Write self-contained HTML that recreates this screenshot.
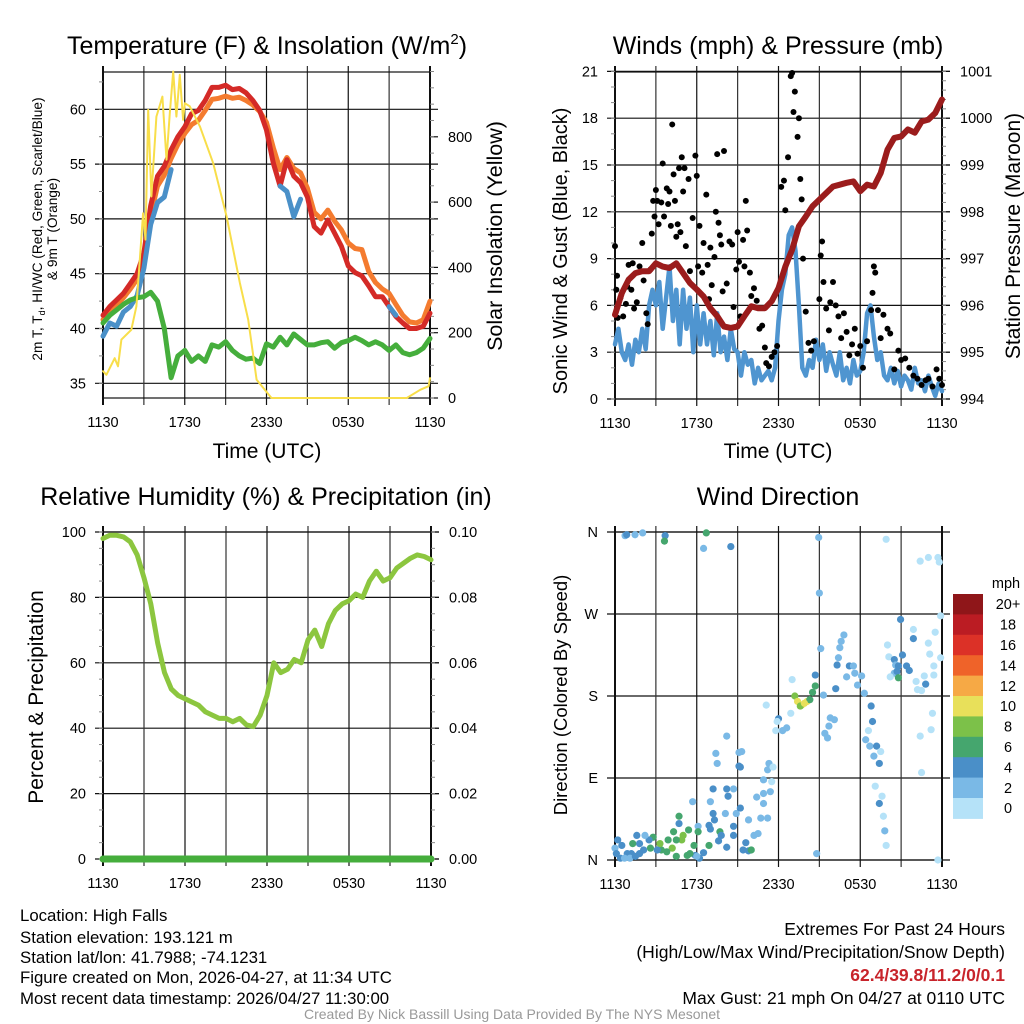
<!DOCTYPE html>
<html><head><meta charset="utf-8"><style>
html,body{margin:0;padding:0;background:#fff;}
svg{display:block;font-family:"Liberation Sans",Arial,sans-serif;}
</style></head><body>
<svg id="fig" width="1024" height="1024" viewBox="0 0 1024 1024" xmlns="http://www.w3.org/2000/svg">
<rect width="1024" height="1024" fill="#fff"/>
<g id="p1"></g>
<g id="p2"></g>
<g id="p3"></g>
<g id="p4"></g>
<text x="267" y="54" font-size="25" text-anchor="middle">Temperature (F) &amp; Insolation (W/m<tspan font-size="15" dy="-10">2</tspan><tspan dy="10">)</tspan></text>
<text x="778" y="54" font-size="25" text-anchor="middle">Winds (mph) &amp; Pressure (mb)</text>
<text x="266" y="505" font-size="25" text-anchor="middle">Relative Humidity (%) &amp; Precipitation (in)</text>
<text x="778" y="505" font-size="25" text-anchor="middle">Wind Direction</text>
<text x="267" y="458" font-size="21" text-anchor="middle">Time (UTC)</text>
<text x="778" y="458" font-size="21" text-anchor="middle">Time (UTC)</text>
<text transform="translate(42,229) rotate(-90)" font-size="13.7" text-anchor="middle">2m T, T<tspan font-size="9" dy="3">d</tspan><tspan dy="-3">, HI/WC (Red, Green, Scarlet/Blue)</tspan></text>
<text transform="translate(57,229) rotate(-90)" font-size="13.7" text-anchor="middle">&amp; 9m T (Orange)</text>
<text transform="translate(502,236) rotate(-90)" font-size="21.5" text-anchor="middle">Solar Insolation (Yellow)</text>
<text transform="translate(567,251) rotate(-90)" font-size="20" text-anchor="middle">Sonic Wind &amp; Gust (Blue, Black)</text>
<text transform="translate(1020,236) rotate(-90)" font-size="21" text-anchor="middle">Station Pressure (Maroon)</text>
<text transform="translate(43,697) rotate(-90)" font-size="21" text-anchor="middle">Percent &amp; Precipitation</text>
<text transform="translate(567,695) rotate(-90)" font-size="18.5" text-anchor="middle">Direction (Colored By Speed)</text>
<g font-size="16.8">
<text x="20" y="921">Location: High Falls</text>
<text x="20" y="943">Station elevation: 193.121 m</text>
<text x="20" y="963">Station lat/lon: 41.7988; -74.1231</text>
<text x="20" y="983">Figure created on Mon, 2026-04-27, at 11:34 UTC</text>
<text x="20" y="1004">Most recent data timestamp: 2026/04/27 11:30:00</text>
</g>
<g font-size="17.5" text-anchor="end">
<text x="1005" y="935">Extremes For Past 24 Hours</text>
<text x="1005" y="958">(High/Low/Max Wind/Precipitation/Snow Depth)</text>
<text x="1005" y="981" fill="#c8242b" font-weight="bold">62.4/39.8/11.2/0/0.1</text>
<text x="1005" y="1004">Max Gust: 21 mph On 04/27 at 0110 UTC</text>
</g>
<text x="512" y="1019" font-size="14" fill="#999" text-anchor="middle">Created By Nick Bassill Using Data Provided By The NYS Mesonet</text>
</svg>
<script>
// ---- data ----
const halfHours = [0,0.5,1,1.5,2,2.5,3,3.5,4,4.5,5,5.5,6,6.5,7,7.5,8,8.5,9,9.5,10,10.5,11,11.5,12,12.5,13,13.5,14,14.5,15,15.5,16,16.5,17,17.5,18,18.5,19,19.5,20,20.5,21,21.5,22,22.5,23,23.5,24];
const xTickLabels = ["1130","1730","2330","0530","1130"];
const tempRed = [41.2,42,42.6,43.2,44.1,45,46.9,51.2,53.9,54.8,56.3,57.5,58.4,59.6,59.9,60.8,62,62,62.2,61.8,61.9,61.5,60.8,59.9,58.1,55.1,53,55.4,53.9,53.3,52,49.3,48.7,49.9,48.7,47.5,45.7,45.1,44.8,43.9,42.9,42.9,42,41.1,40.5,40,40,40.2,41.4];
const temp9m = [40.8,41.6,42.2,42.8,43.6,44.5,46.2,50.3,53,54,55.5,56.8,57.8,58.6,59,59.9,60.9,61,61.2,61,61.1,60.8,60.4,59.8,58.8,56.5,54.5,55.6,54.6,54.2,52.8,50.6,50,50.8,49.8,49,47.8,47.3,47.2,45.2,44.2,43.6,43.2,42.2,41.2,40.6,40.5,40.8,42.5];
const heatIndexWindChill = [39.3,40.5,40.2,41.5,42,43,45.5,49.5,51.5,52,54.5,null,null,null,null,null,null,null,null,null,null,null,null,null,null,null,53,52.5,50.2,51.8,null,null,null,null,null,null,null,null,null,null,null,null,42,41.2,null,null,null,null,null];
const dewpoint = [40.5,41.2,41.7,42.2,42.6,42.8,42.9,43.3,42.5,40,35.5,37.5,38,37,37.5,37,38.5,38.3,38.8,38,37.5,37.2,37.3,36.8,38.6,38.3,39.2,38.5,39.5,39,38.5,38.5,38.7,38.8,38.2,38.7,38.9,39.2,38.9,38.5,38.8,38.5,38,38.5,37.8,37.6,37.8,38.2,39.1];
const solarTimes = [0,0.25,0.86,1.1,1.35,2.08,2.45,2.7,2.94,3.12,3.32,3.55,3.92,4.36,4.66,4.9,5.15,5.39,5.64,5.88,6.0,6.37,7.11,8.09,9.07,10.05,10.66,11.27,12.37,22.3,23.28,23.9,24];
const solarValues = [82,71,122,97,179,209,281,423,566,485,883,617,862,923,730,872,1000,862,990,852,903,893,832,719,556,352,240,56,0,0,25,36,61];
const pressure = [995.8,996.26,996.55,996.69,996.73,996.73,996.9,996.83,996.8,996.9,996.69,996.48,996.34,996.19,995.94,995.77,995.55,995.52,995.55,995.77,995.98,995.94,995.94,996.09,996.37,996.83,997.19,997.69,997.9,998.12,998.26,998.4,998.54,998.58,998.62,998.65,998.44,998.58,998.54,998.83,999.33,999.58,999.61,999.76,999.69,999.93,999.97,1000.11,1000.4];
const windSpeed = [3.5,4.5,3,2.5,3.5,2.2,3.8,3,4.5,3.2,6,7,6,7.5,4.5,6.5,8.5,5,7,3.5,7,4.5,6.5,3,6,3.5,5.5,3.5,5,2.8,5.5,3,4,2.5,4.5,3.2,3,1.5,3,2.2,2.5,1,2,1.2,1.5,1.8,1.2,2,5,7,8,10.5,11,9.5,6,2,1.5,2.5,2,3.8,2.5,3.5,1.8,3,2.2,1.5,3,1.2,2,1,2.5,1.5,1.8,3,5.5,6,4,2.5,3,1.5,1.2,2,1,1.8,0.8,1.5,1.2,0.6,2,1,1.2,0.5,1.5,0.8,0.2,1,0.5];
const gustTimes = [0,0.1,0.15,0.2,0.4,0.6,0.8,0.9,1,1.2,1.3,1.4,1.6,1.8,2,2.1,2.3,2.4,2.6,2.7,2.8,2.9,3,3.1,3.2,3.4,3.5,3.6,3.8,3.9,4,4.1,4.2,4.3,4.4,4.5,4.6,4.7,4.8,4.9,5,5.1,5.2,5.4,5.5,5.7,5.9,6,6.1,6.2,6.4,6.5,6.7,6.8,6.9,7,7.1,7.3,7.4,7.5,7.6,7.7,7.8,7.9,8,8.2,8.4,8.6,8.7,8.9,9,9.1,9.2,9.4,9.5,9.6,9.7,9.9,10,10.2,10.4,10.6,10.8,11,11.1,11.3,11.5,11.7,11.9,12.2,12.4,12.5,12.7,12.9,13,13.1,13.2,13.4,13.5,13.6,13.7,13.8,14,14.2,14.4,14.6,15,15.1,15.2,15.3,15.5,15.7,15.8,16,16.2,16.4,16.6,16.8,17,17.2,17.4,17.6,17.8,18,18.2,18.5,18.8,18.9,19,19.1,19.3,19.5,19.7,20,20.2,20.5,20.8,21,21.3,21.6,21.9,22.2,22.5,22.8,23,23.3,23.6,23.8,24];
const gustValues = [9.8,7,7.9,5.2,6.5,5.3,6.1,7.2,8.6,7,8.7,5.8,6.2,8.5,10,7.6,5.5,4.8,8.3,10.6,12.7,11.7,13.4,12.7,11.2,12.6,15.1,11.7,13.5,12.5,13.3,11.1,17.6,14.4,12.7,10.4,11.2,14.8,10.7,15.5,13.3,14.8,9.8,14.1,8.2,11.6,15.6,14.3,8.5,11.1,8.1,10,13.1,8.6,6.4,9.7,7.3,9.1,12,15.7,11.3,10.5,9.9,6.9,15.9,7.4,10.1,9.9,5.9,8.3,10.7,8.8,5.3,10.2,8.5,12.7,10.8,8.1,6.6,7.1,6.3,4.5,4.7,3.3,2.3,2.1,2.7,3,3.4,13.6,14,12.1,15.5,20.7,20.9,18.4,19.7,16.8,18,14.1,12.8,9,5.6,3.6,3.1,3.7,6.4,9.2,10.1,7.5,5.8,4.4,6.2,7.5,6,5.3,3.9,5.5,4.3,2.8,3.5,4.5,2.9,3.4,2,3.7,5.7,6.8,8.5,8.1,5.7,3.9,5.4,4.5,4.2,1.9,3.1,2.5,2.6,2,1.5,1.3,0.9,1.2,1.3,0.8,1.9,1.3,0.9];
const humidity = [98,99,99,98.5,97,93,86,78,66,57,52,50,49,48,47,45,44,43,43,42,43,41,40.5,44,50,60,57,58,61,60,67,70,65,72,76,78,79,81,80,85,88,85,86,89,90.5,92,93,92.5,91.5];
const precip = [0,0,0,0,0,0,0,0,0,0,0,0,0,0,0,0,0,0,0,0,0,0,0,0,0,0,0,0,0,0,0,0,0,0,0,0,0,0,0,0,0,0,0,0,0,0,0,0,0];
const dirTimes = [
0.74,0.86,1.47,2.03,3.68,3.63,6.7,6.5,8.5,14.95,
15.0,19.9,22.4,23,23.7,23.8,20.96,23.9,21.9,21.9,
23.5,23,20,23.1,23.9,23.4,23.4,22.7,22.8,22.1,
22.2,22.5,20.1,20.5,20.6,20.8,21.1,21.4,21.6,20.5,
20.7,20.8,20.2,16.8,16.6,16.5,15.1,16.4,16.3,17.2,
17.5,17.6,17,18.1,17.8,18.3,16.2,15.3,14.7,14.7,
14.5,13,13.2,13.4,13.7,14.1,14.3,13.6,13.9,11.1,
12.9,12,11.9,12.3,12.6,11.8,8.2,15.8,16.1,15.7,
15.4,15.6,18.8,18.9,18.6,18.4,18.7,19.2,19.5,19,
19.4,23.3,23.2,22.4,22.5,19.1,19.6,19.4,19.7,19.8,
19.9,23.7,14.8,7.4,7.5,9.1,9.3,9.1,9.2,11.3,
11.2,11.6,10.9,11.5,11.4,10.4,10.9,10.9,7.2,8.2,
8.7,8.3,5.7,7,7.2,7.3,8.1,8.9,9.2,9.8,
10.7,11.2,10.5,10.2,8.7,8.7,7.7,7.8,7.6,8.2,
9.6,9.4,9.8,10,6.1,6.1,6.9,7,6.9,6.5,
6.2,5.9,5.4,5,4.9,4.7,4.7,4.3,4.5,4.2,
3.9,3.8,3.4,3.3,3.1,2.8,2.6,2.5,2.2,2.1,
1.8,1.6,1.3,1.2,0.9,0.5,0.2,0,0.1,0.4,
0.7,1.1,1.5,1.8,5.3,5.8,6,4.5,5.5];
const dirDegrees = [
356,357,357,359,356,350,359,342,344,354,
293,352,328,332,332,327,264,268,253,243,
250,238,236,226,222,213,203,202,193,196,
187,186,223,220,214,213,225,213,208,205,
207,200,201,247,240,233,232,222,214,213,
213,205,201,202,192,183,188,181,203,191,
184,198,180,174,170,174,176,169,172,170,
161,155,152,142,145,142,136,156,154,147,
139,134,169,152,142,132,125,125,119,114,
106,161,143,136,96,81,70,62,48,32,
16,0,7,117,106,118,119,103,102,106,
99,102,88,86,75,69,73,62,78,78,
78,70,64,64,51,44,51,51,57,44,
46,46,29,27,37,27,31,27,21,14,
19,11,10,11,37,31,38,34,16,8,
2,5,33,27,22,48,40,31,22,13,
22,9,11,18,11,25,13,22,27,11,
18,27,18,7,7,16,22,13,7,2,
2,2,4,7,5,16,4,4,7];
const dirSpeeds = [
2,4,2,2,4,6,6,2,4,2,
2,0,0,0,0,0,4,0,0,4,
0,0,0,0,0,0,0,0,4,0,
0,0,0,4,2,4,4,4,4,2,
4,6,0,2,2,2,2,2,4,4,
2,2,2,2,2,2,4,2,4,6,
6,0,8,10,10,10,6,8,10,0,
0,4,0,2,2,0,2,2,2,2,
2,2,4,4,0,2,2,4,0,2,
4,0,0,0,0,0,0,4,0,2,
0,0,2,2,2,2,2,4,4,2,
2,0,2,0,2,2,2,2,4,4,
2,4,2,2,4,4,2,2,4,2,
2,2,2,2,4,4,6,4,4,4,
4,4,4,6,2,6,4,4,6,4,
4,4,6,8,8,6,4,6,6,8,
6,6,6,8,4,6,6,4,2,4,
4,4,6,4,4,4,4,2,4,4,
2,2,4,4,6,6,2,6,6];
const speedBins = ["0","2","4","6","8","10","12","14","16","18","20+"];
const speedColors = ["#b5e2f8","#7ab9e6","#4a8fc8","#45a66e","#7cc149","#e8e05a","#f6a945","#ef6329","#dc3127","#bb1c23","#8f1619"];
const tempTicks = [35,40,45,50,55,60];
const solarTicks = [0,200,400,600,800];
const windTicks = [0,3,6,9,12,15,18,21];
const pressureTicks = [994,995,996,997,998,999,1000,1001];
const humidityTicks = [0,20,40,60,80,100];
const precipTickLabels = ["0.00","0.02","0.04","0.06","0.08","0.10"];
const dirTickLabels = ["N","E","S","W","N"];
const dirTicks = [0,90,180,270,360];

// ---- helpers ----
const NS = "http://www.w3.org/2000/svg";
function mk(parent, tag, attrs){const e=document.createElementNS(NS,tag);for(const k in attrs)e.setAttribute(k,attrs[k]);parent.appendChild(e);return e;}
function lin(d0,d1,r0,r1){return v=>r0+(v-d0)*(r1-r0)/(d1-d0);}

function frame(g, P, name){
  P.leftTicks.forEach(t=>{const y=P.yL(t);
    const l=mk(g,'line',{x1:P.x0-8,x2:P.x1+8,y1:y,y2:y,stroke:'#111','stroke-width':1.2});
    
    });
  for(let h=0;h<=24;h+=3){const x=P.x(h);
    const l=mk(g,'line',{x1:x,x2:x,y1:P.y0-6,y2:P.y1+7,stroke:(h%6==0?'#111':'#333'),'stroke-width':(h==0||h==24)?2:1.2});
    
    }
  const r=mk(g,'rect',{x:P.x0,y:P.y0,width:P.x1-P.x0,height:P.y1-P.y0,fill:'none',stroke:'#111','stroke-width':1.2});
  
  
  xTickLabels.forEach((s,i)=>{const t=mk(g,'text',{x:P.x(i*6),y:P.y1+29,'font-size':14.5,'text-anchor':'middle'});t.textContent=s;
    
    });
}
function leftLabels(g,P,ticks,labels,name,minorStep,lo,hi){
  ticks.forEach((v,i)=>{const t=mk(g,'text',{x:P.x0-17,y:P.yL(v)+5,'font-size':14.5,'text-anchor':'end'});t.textContent=labels?labels[i]:String(v);
    
    });
  if(minorStep){for(let v=lo;v<=hi+1e-9;v+=minorStep){const y=P.yL(v);if(y<P.y0-1||y>P.y1+1)continue;
    const l=mk(g,'line',{x1:P.x0-4,x2:P.x0,y1:y,y2:y,stroke:'#888','stroke-width':1});
    
    }}
}
function rightLabels(g,P,ticks,labels,yfn,name,minorStep,lo,hi){
  ticks.forEach((v,i)=>{const y=yfn(v);
    const l=mk(g,'line',{x1:P.x1,x2:P.x1+8,y1:y,y2:y,stroke:'#111','stroke-width':1.2});
    
    
    const t=mk(g,'text',{x:P.x1+18,y:y+5,'font-size':14.5});t.textContent=labels?labels[i]:String(v);
    
    });
  if(minorStep){for(let v=lo;v<=hi+1e-9;v+=minorStep){const y=yfn(v);if(y<P.y0-1||y>P.y1+1)continue;
    const l=mk(g,'line',{x1:P.x1,x2:P.x1+4,y1:y,y2:y,stroke:'#888','stroke-width':1});
    
    }}
}
function pathFrom(ts,vs,xf,yf){let d='',pen=false;for(let i=0;i<ts.length;i++){if(vs[i]===null){pen=false;continue;}d+=(pen?'L':'M')+xf(ts[i]).toFixed(1)+','+yf(vs[i]).toFixed(1);pen=true;}return d;}
function series(g,ts,vs,xf,yf,color,w,name){
  const p=mk(g,'path',{d:pathFrom(ts,vs,xf,yf),fill:'none',stroke:color,'stroke-width':w,'stroke-linejoin':'round','stroke-linecap':'round'});
  
  
  return p;
}
const quarterHours = windSpeed.map((_,i)=>i*0.25);

// ---- panel 1 ----
(function(){
  const g=document.getElementById('p1');
  const P={x0:103,x1:430,y0:72,y1:398};
  P.x=lin(0,24,P.x0,P.x1); P.yL=lin(35,60,383.3,109.3); P.leftTicks=tempTicks;
  const yS=lin(0,800,398,136.8);
  frame(g,P,'temperature');
  leftLabels(g,P,tempTicks,null,'temperature',2.5,32.5,65);
  rightLabels(g,P,solarTicks,null,yS,'insolation',50,0,1000);
  series(g,halfHours,temp9m,P.x,P.yL,'#f47b2f',5,'temp-9m-line');
  series(g,halfHours,tempRed,P.x,P.yL,'#d42a27',5,'temp-2m-line');
  series(g,halfHours,heatIndexWindChill,P.x,P.yL,'#4a90c8',5,'heat-index-wind-chill-line');
  series(g,halfHours,dewpoint,P.x,P.yL,'#45ae3c',5,'dewpoint-line');
  series(g,solarTimes,solarValues,P.x,yS,'#f8de4a',2,'solar-insolation-line');
})();

// ---- panel 2 ----
(function(){
  const g=document.getElementById('p2');
  const P={x0:615,x1:942,y0:72,y1:399};
  P.x=lin(0,24,P.x0,P.x1); P.yL=lin(0,21,399,71.4); P.leftTicks=windTicks;
  const yP=lin(994,1001,399,71.4);
  frame(g,P,'wind');
  leftLabels(g,P,windTicks,null,'wind',1,0,21);
  rightLabels(g,P,pressureTicks,null,yP,'pressure',0.2,994,1001);
  series(g,quarterHours,windSpeed,P.x,P.yL,'#4f95d0',4.5,'sonic-wind-line');
  gustTimes.forEach((t,i)=>{const c=mk(g,'circle',{cx:P.x(t),cy:P.yL(gustValues[i]),r:3,fill:'#000'});
    
    });
  series(g,halfHours,pressure,P.x,yP,'#9b1c1c',6,'pressure-line');
})();

// ---- panel 3 ----
(function(){
  const g=document.getElementById('p3');
  const P={x0:103,x1:431,y0:532,y1:859};
  P.x=lin(0,24,P.x0,P.x1); P.yL=lin(0,100,859,532); P.leftTicks=humidityTicks;
  frame(g,P,'humidity');
  leftLabels(g,P,humidityTicks,null,'humidity',5,0,100);
  rightLabels(g,P,humidityTicks,precipTickLabels,P.yL,'precip',5,0,100);
  series(g,halfHours,humidity,P.x,P.yL,'#8cc63f',5,'humidity-line');
  series(g,halfHours,precip.map(v=>v*1000),P.x,P.yL,'#45ae3c',7,'precipitation-line');
})();

// ---- panel 4 ----
(function(){
  const g=document.getElementById('p4');
  const P={x0:615,x1:942,y0:532,y1:860};
  P.x=lin(0,24,P.x0,P.x1); P.yL=lin(0,360,860,532); P.leftTicks=dirTicks;
  frame(g,P,'direction');
  leftLabels(g,P,dirTicks,dirTickLabels,'direction');
  dirTimes.forEach((t,i)=>{const s=dirSpeeds[i]||0;const bin=Math.max(0,Math.min(10,Math.floor(s/2)));
    const c=mk(g,'circle',{cx:P.x(t),cy:P.yL(dirDegrees[i]),r:3.6,fill:speedColors[bin]});
    
    });
  const top=594,h=20.4;
  const ml=mk(g,'text',{x:1006,y:588,'font-size':14.5,'text-anchor':'middle'});ml.textContent='mph';
  
  
  speedBins.forEach((s,i)=>{const k=10-i;const y=top+i*h;
    const r=mk(g,'rect',{x:953,y:y,width:30,height:h+0.5,fill:speedColors[k]});
    
    
    const t=mk(g,'text',{x:1008,y:y+h/2+5,'font-size':14.5,'text-anchor':'middle'});t.textContent=speedBins[k];
    
    });
})();
</script>
</body></html>
